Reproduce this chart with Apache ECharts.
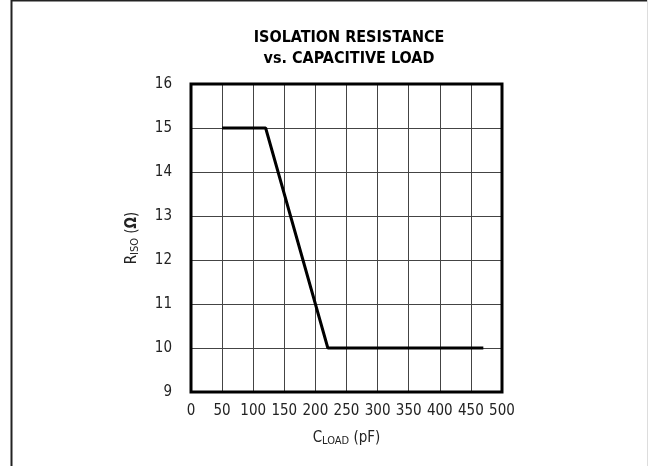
<!DOCTYPE html>
<html><head><meta charset="utf-8">
<script src="https://cdn.jsdelivr.net/npm/echarts@6/dist/echarts.min.js"></script>
<style>html,body{margin:0;padding:0;background:#fff}#c{width:648px;height:466px}</style>
</head><body><div id="c"></div>
<script>
const titleLines = ['ISOLATION RESISTANCE', 'vs. CAPACITIVE LOAD'];
const xTicks = [0, 50, 100, 150, 200, 250, 300, 350, 400, 450, 500];
const yTicks = [9, 10, 11, 12, 13, 14, 15, 16];
const cLoad = [50, 120, 220, 470];
const rIso = [15, 15, 10, 10];

const FONT = '"DejaVu Sans Condensed", "Liberation Sans Narrow", sans-serif';
const chart = echarts.init(document.getElementById('c'), null, {renderer: 'canvas'});
chart.setOption({
  backgroundColor: '#fff',
  animation: false,
  title: {
    text: titleLines.join('\n'),
    left: 344, top: 22, textAlign: 'center',
    textStyle: {fontFamily: FONT, fontWeight: 'bold', fontSize: 16, color: '#000', lineHeight: 21}
  },
  grid: {left: 191, right: 146, top: 84, bottom: 74, show: true, borderColor: '#000', borderWidth: 3, z: 5},
  xAxis: {
    type: 'value', min: xTicks[0], max: xTicks[xTicks.length - 1], interval: 50,
    axisLine: {show: false}, axisTick: {show: false},
    splitLine: {show: true, lineStyle: {color: '#444', width: 1}},
    axisLabel: {fontFamily: FONT, fontSize: 15, color: '#222', margin: 12},
    name: '{m|C}{s|LOAD}{m| (pF)}', nameLocation: 'middle', nameGap: 38,
    nameTextStyle: {rich: {m: {fontFamily: FONT, fontSize: 15, color: '#222'}, s: {fontFamily: FONT, fontSize: 11, color: '#222', verticalAlign: 'bottom', padding: [6,0,0,0]}}}
  },
  yAxis: {
    type: 'value', min: yTicks[0], max: yTicks[yTicks.length - 1], interval: 1,
    axisLine: {show: false}, axisTick: {show: false},
    splitLine: {show: true, lineStyle: {color: '#444', width: 1}},
    axisLabel: {fontFamily: FONT, fontSize: 15, color: '#222', margin: 19},
    name: '{m|R}{s|ISO}{m| (}{o|Ω}{m|)}', nameLocation: 'middle', nameGap: 50,
    nameTextStyle: {rich: {m: {fontFamily: FONT, fontSize: 15, color: '#222'}, o: {fontFamily: FONT, fontSize: 15, fontWeight: 'bold', color: '#222'}, s: {fontFamily: FONT, fontSize: 11, color: '#222', verticalAlign: 'bottom', padding: [6,0,0,0]}}}
  },
  series: [{
    type: 'line', data: cLoad.map((x, i) => [x, rIso[i]]),
    showSymbol: false, lineStyle: {color: '#000', width: 3}, z: 10
  }],
  graphic: [
    {type: 'line', shape: {x1: 11.5, y1: 0, x2: 11.5, y2: 466}, style: {stroke: '#222', lineWidth: 2}},
    {type: 'line', shape: {x1: 11, y1: 0.5, x2: 648, y2: 0.5}, style: {stroke: '#222', lineWidth: 2}},
    {type: 'line', shape: {x1: 647.5, y1: 0, x2: 647.5, y2: 466}, style: {stroke: '#ddd', lineWidth: 1}}
  ]
});
</script></body></html>
